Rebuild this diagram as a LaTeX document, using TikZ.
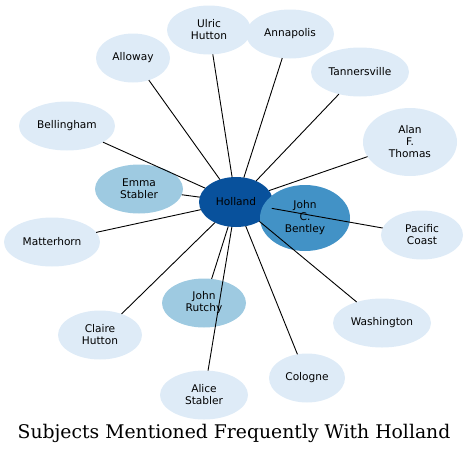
\documentclass[tikz,border=0pt]{standalone}
\usepackage{fontspec}
\setsansfont{DejaVu Sans}
\newfontfamily\titlefont{DejaVu Serif}
\usetikzlibrary{shapes.geometric}
\definecolor{paleblue}{HTML}{DEEBF7}
\definecolor{lightblue}{HTML}{9ECAE1}
\definecolor{midblue}{HTML}{4292C6}
\definecolor{darkblue}{HTML}{08519C}
\begin{document}
\begin{tikzpicture}[x=1pt, y=-1pt,
    topic/.style={ellipse, fill=#1, inner sep=0pt, outer sep=0pt,
      minimum height=49pt, align=center,
      font=\sffamily\fontsize{10.6}{12}\selectfont},
    link/.style={line width=0.9pt}]
    \useasboundingbox (0,0) rectangle (469,456);
    \node (holland) [topic=darkblue, minimum width=74pt, minimum height=50pt] at (236,202) {Holland};
    \node (bentley) [topic=midblue, minimum width=90pt, minimum height=66pt] at (305,218) {John\\C.\\Bentley};
    \node (emma) [topic=lightblue, minimum width=88pt] at (139,189) {Emma\\Stabler};
    \node (rutchy) [topic=lightblue, minimum width=84pt] at (204,303) {John\\Rutchy};
    \node (ulric) [topic=paleblue, minimum width=84pt] at (209,30) {Ulric\\Hutton};
    \node (annapolis) [topic=paleblue, minimum width=88pt] at (290,34) {Annapolis};
    \node (alloway) [topic=paleblue, minimum width=74pt] at (133,58) {Alloway};
    \node (tannersville) [topic=paleblue, minimum width=98pt] at (360,72) {Tannersville};
    \node (bellingham) [topic=paleblue, minimum width=96pt] at (67,126) {Bellingham};
    \node (alan) [topic=paleblue, minimum width=94pt, minimum height=68pt] at (410,142) {Alan\\F.\\Thomas};
    \node (pacific) [topic=paleblue, minimum width=82pt] at (422,235) {Pacific\\Coast};
    \node (matterhorn) [topic=paleblue, minimum width=96pt] at (52,242) {Matterhorn};
    \node (claire) [topic=paleblue, minimum width=84pt] at (100,335) {Claire\\Hutton};
    \node (alice) [topic=paleblue, minimum width=88pt] at (204,395) {Alice\\Stabler};
    \node (washington) [topic=paleblue, minimum width=98pt] at (382,323) {Washington};
    \node (cologne) [topic=paleblue, minimum width=76pt] at (307,378) {Cologne};
    % links from the hub
    \foreach \t in {emma,rutchy,ulric,annapolis,alloway,tannersville,bellingham,
      alan,pacific,matterhorn,claire,alice,washington,cologne}
      \draw[link] (holland) -- (\t);
    \node (title) at (234,433) {\titlefont\fontsize{18.8}{21}\selectfont Subjects Mentioned Frequently With Holland};
  \end{tikzpicture}
\end{document}
